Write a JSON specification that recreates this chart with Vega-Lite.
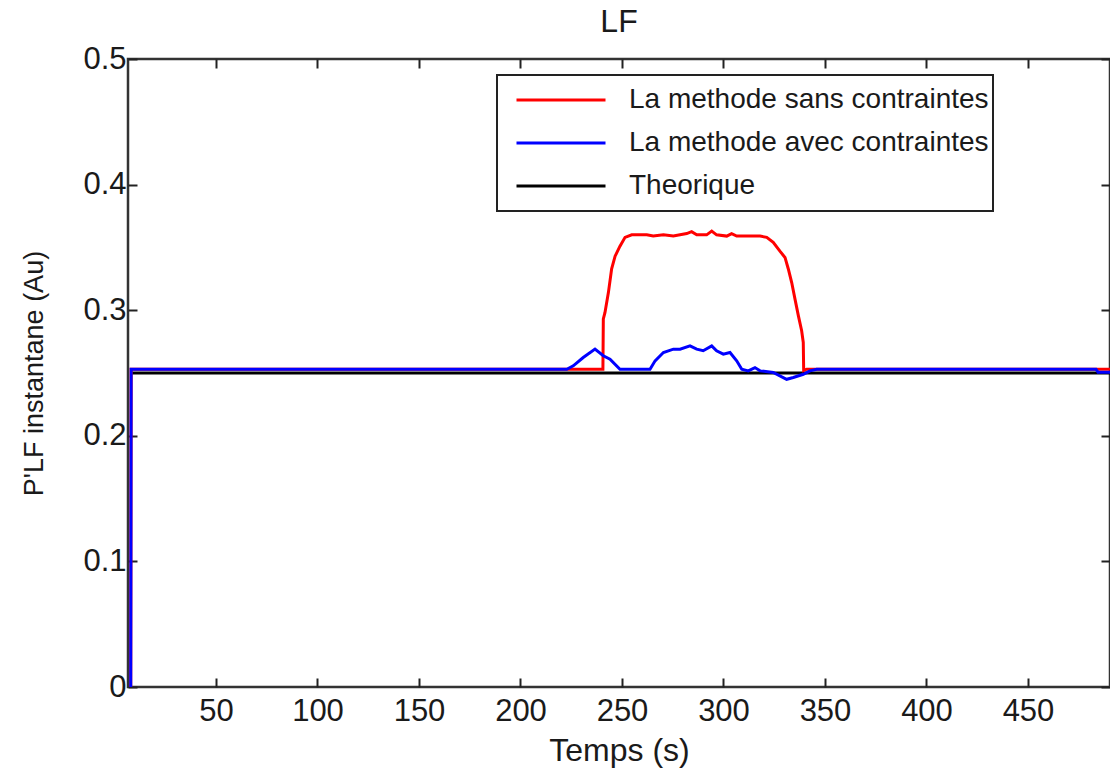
{
  "$schema": "https://vega.github.io/schema/vega-lite/v6.json",
  "width": 982,
  "height": 628,
  "autosize": {"type": "none"},
  "padding": {"left": 128, "top": 59, "right": 0, "bottom": 85},
  "background": "white",
  "title": {"text": "LF", "fontSize": 32, "font": "Liberation Sans", "fontWeight": "normal", "color": "#1a1a1a", "baseline": "alphabetic", "offset": -21},
  "data": {"values": [
    {"t": 8, "v": 0.25, "s": "Theorique"},
    {"t": 490.4, "v": 0.25, "s": "Theorique"},
    {"t": 8, "v": 0, "s": "La methode sans contraintes"},
    {"t": 8.2, "v": 0.253, "s": "La methode sans contraintes"},
    {"t": 240.6, "v": 0.253, "s": "La methode sans contraintes"},
    {"t": 240.8, "v": 0.293, "s": "La methode sans contraintes"},
    {"t": 241.6, "v": 0.298, "s": "La methode sans contraintes"},
    {"t": 243.3, "v": 0.314, "s": "La methode sans contraintes"},
    {"t": 244.9, "v": 0.333, "s": "La methode sans contraintes"},
    {"t": 246.6, "v": 0.343, "s": "La methode sans contraintes"},
    {"t": 249, "v": 0.351, "s": "La methode sans contraintes"},
    {"t": 251.5, "v": 0.358, "s": "La methode sans contraintes"},
    {"t": 254.8, "v": 0.36, "s": "La methode sans contraintes"},
    {"t": 262.2, "v": 0.36, "s": "La methode sans contraintes"},
    {"t": 265.4, "v": 0.359, "s": "La methode sans contraintes"},
    {"t": 270.4, "v": 0.36, "s": "La methode sans contraintes"},
    {"t": 275.3, "v": 0.359, "s": "La methode sans contraintes"},
    {"t": 281.9, "v": 0.361, "s": "La methode sans contraintes"},
    {"t": 284.3, "v": 0.3625, "s": "La methode sans contraintes"},
    {"t": 286.8, "v": 0.36, "s": "La methode sans contraintes"},
    {"t": 291.7, "v": 0.36, "s": "La methode sans contraintes"},
    {"t": 294.2, "v": 0.363, "s": "La methode sans contraintes"},
    {"t": 296.6, "v": 0.36, "s": "La methode sans contraintes"},
    {"t": 301.6, "v": 0.359, "s": "La methode sans contraintes"},
    {"t": 304, "v": 0.361, "s": "La methode sans contraintes"},
    {"t": 306.5, "v": 0.359, "s": "La methode sans contraintes"},
    {"t": 318, "v": 0.359, "s": "La methode sans contraintes"},
    {"t": 321.3, "v": 0.358, "s": "La methode sans contraintes"},
    {"t": 324.5, "v": 0.354, "s": "La methode sans contraintes"},
    {"t": 327.8, "v": 0.347, "s": "La methode sans contraintes"},
    {"t": 330.3, "v": 0.342, "s": "La methode sans contraintes"},
    {"t": 331.9, "v": 0.333, "s": "La methode sans contraintes"},
    {"t": 333.6, "v": 0.322, "s": "La methode sans contraintes"},
    {"t": 335.2, "v": 0.309, "s": "La methode sans contraintes"},
    {"t": 336.9, "v": 0.2955, "s": "La methode sans contraintes"},
    {"t": 338.5, "v": 0.2836, "s": "La methode sans contraintes"},
    {"t": 339.3, "v": 0.2743, "s": "La methode sans contraintes"},
    {"t": 339.5, "v": 0.252, "s": "La methode sans contraintes"},
    {"t": 341, "v": 0.253, "s": "La methode sans contraintes"},
    {"t": 490.4, "v": 0.253, "s": "La methode sans contraintes"},
    {"t": 8, "v": 0, "s": "La methode avec contraintes"},
    {"t": 8.2, "v": 0.253, "s": "La methode avec contraintes"},
    {"t": 222.8, "v": 0.253, "s": "La methode avec contraintes"},
    {"t": 226, "v": 0.2557, "s": "La methode avec contraintes"},
    {"t": 230.9, "v": 0.2623, "s": "La methode avec contraintes"},
    {"t": 236.7, "v": 0.269, "s": "La methode avec contraintes"},
    {"t": 240.8, "v": 0.2637, "s": "La methode avec contraintes"},
    {"t": 244.1, "v": 0.261, "s": "La methode avec contraintes"},
    {"t": 249, "v": 0.253, "s": "La methode avec contraintes"},
    {"t": 263.8, "v": 0.253, "s": "La methode avec contraintes"},
    {"t": 266.3, "v": 0.2597, "s": "La methode avec contraintes"},
    {"t": 270.4, "v": 0.2663, "s": "La methode avec contraintes"},
    {"t": 275.3, "v": 0.269, "s": "La methode avec contraintes"},
    {"t": 278.6, "v": 0.269, "s": "La methode avec contraintes"},
    {"t": 283.5, "v": 0.2716, "s": "La methode avec contraintes"},
    {"t": 286.8, "v": 0.269, "s": "La methode avec contraintes"},
    {"t": 290, "v": 0.2677, "s": "La methode avec contraintes"},
    {"t": 294.2, "v": 0.2716, "s": "La methode avec contraintes"},
    {"t": 296.6, "v": 0.2677, "s": "La methode avec contraintes"},
    {"t": 299.9, "v": 0.265, "s": "La methode avec contraintes"},
    {"t": 303.2, "v": 0.2663, "s": "La methode avec contraintes"},
    {"t": 306.5, "v": 0.2597, "s": "La methode avec contraintes"},
    {"t": 309, "v": 0.253, "s": "La methode avec contraintes"},
    {"t": 312.2, "v": 0.2517, "s": "La methode avec contraintes"},
    {"t": 315.5, "v": 0.2543, "s": "La methode avec contraintes"},
    {"t": 318, "v": 0.2517, "s": "La methode avec contraintes"},
    {"t": 324.5, "v": 0.2504, "s": "La methode avec contraintes"},
    {"t": 331.1, "v": 0.245, "s": "La methode avec contraintes"},
    {"t": 334.4, "v": 0.2464, "s": "La methode avec contraintes"},
    {"t": 339.3, "v": 0.249, "s": "La methode avec contraintes"},
    {"t": 342.6, "v": 0.2517, "s": "La methode avec contraintes"},
    {"t": 345.9, "v": 0.253, "s": "La methode avec contraintes"},
    {"t": 483.5, "v": 0.253, "s": "La methode avec contraintes"},
    {"t": 484.5, "v": 0.2505, "s": "La methode avec contraintes"},
    {"t": 490.4, "v": 0.2505, "s": "La methode avec contraintes"}
  ]},
  "layer": [
    {
      "mark": {"type": "line", "strokeWidth": 3, "clip": true},
      "encoding": {
        "x": {"field": "t", "type": "quantitative", "scale": {"domain": [6.65, 490.4], "nice": false, "zero": false},
              "axis": {"orient": "bottom", "values": [50, 100, 150, 200, 250, 300, 350, 400, 450], "format": "d", "labelPadding": 18, "title": "Temps (s)", "titleY": 73, "titleBaseline": "alphabetic", "titleFontSize": 32}},
        "y": {"field": "v", "type": "quantitative", "scale": {"domain": [0, 0.5], "nice": false},
              "axis": {"orient": "left", "values": [0, 0.1, 0.2, 0.3, 0.4, 0.5], "format": "~g", "labelPadding": 11, "title": "P'LF instantane (Au)", "titleFontSize": 27, "titleX": -94, "titleBaseline": "middle"}},
        "color": {"field": "s", "type": "nominal",
                  "scale": {"domain": ["La methode sans contraintes", "La methode avec contraintes", "Theorique"], "range": ["#ff0000", "#0000ff", "#000000"]},
                  "legend": {"title": null}}
      }
    },
    {
      "mark": {"type": "point", "opacity": 0},
      "encoding": {
        "x": {"field": "t", "type": "quantitative", "axis": {"orient": "top", "values": [50, 100, 150, 200, 250, 300, 350, 400, 450], "labels": false, "title": null}},
        "y": {"field": "v", "type": "quantitative", "axis": {"orient": "right", "values": [0, 0.1, 0.2, 0.3, 0.4, 0.5], "labels": false, "title": null}}
      }
    }
  ],
  "resolve": {"axis": {"x": "independent", "y": "independent"}},
  "config": {
    "view": {"stroke": "#333333", "strokeWidth": 2.5},
    "axis": {"domain": false, "grid": false, "tickSize": -9, "tickColor": "#222222", "tickWidth": 2,
             "labelFont": "Liberation Sans", "labelFontSize": 31, "labelColor": "#1a1a1a",
             "titleFont": "Liberation Sans", "titleFontWeight": "normal", "titleColor": "#1a1a1a"},
    "legend": {"orient": "none", "legendX": 369, "legendY": 16, "symbolType": "stroke", "symbolSize": 7921, "symbolStrokeWidth": 3,
               "clipHeight": 42, "rowPadding": 1, "padding": 4, "symbolOffset": 14, "labelOffset": 22,
               "labelFont": "Liberation Sans", "labelFontSize": 28, "labelColor": "#1a1a1a", "labelLimit": 0,
               "strokeColor": "#222222", "fillColor": "white", "strokeWidth": 2}
  }
}
